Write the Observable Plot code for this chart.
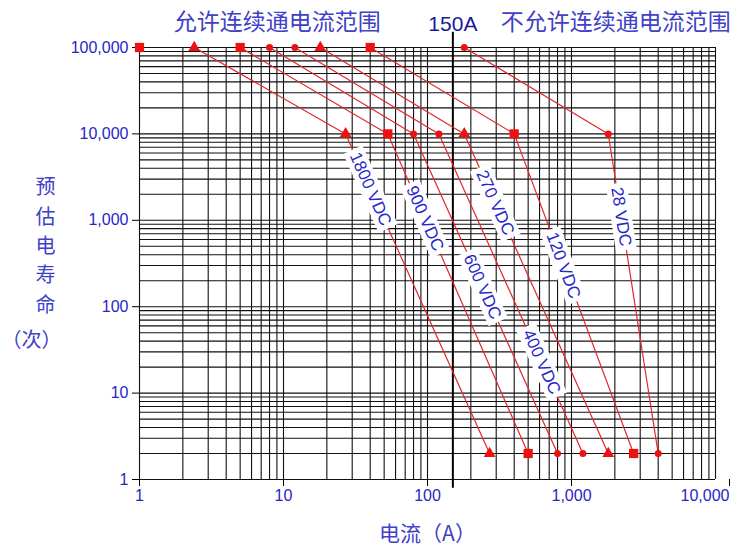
<!DOCTYPE html>
<html><head><meta charset="utf-8">
<script src="https://cdn.jsdelivr.net/npm/d3@7"></script>
<script src="https://cdn.jsdelivr.net/npm/@observablehq/plot@0.6"></script>
<style>body{margin:0;background:#fff;}</style>
</head><body><div id="chart"></div>
<script>
// ---- data ----
const series = ["1800 VDC", "900 VDC", "600 VDC", "400 VDC", "270 VDC", "120 VDC", "28 VDC"];
const shapes = ["triangle", "square", "circle", "circle", "triangle", "square", "circle"];
const lifeLevels = [100000, 10000, 2];
const currentAt100k = [2.4, 5, 8, 12, 18, 40, 180];
const currentAt10k = [27, 53, 80, 120, 180, 400, 1800];
const currentAt2 = [270, 500, 800, 1200, 1800, 2700, 4000];
const labelLife = [2300, 1050, 170, 23, 1600, 300, 1100];
const loneCurrent = [1];
const loneLife = [100000];
const loneShape = ["square"];
const xTickValues = [1, 10, 100, 1000];
const xLastTick = [10000];
const yTickValues = [1, 10, 100, 1000, 10000, 100000];
const limitCurrent = [150];
const limitLabel = "150A";
const leftTitle = "允许连续通电流范围";
const rightTitle = "不允许连续通电流范围";
const xTitle = "电流（A）";
const yTitleChars = "预\n估\n电\n寿\n命";
const yTitleUnit = "（次）";

// ---- layout ----
const W = 730, H = 548, ML = 139, MR = 15, MT = 47, MB = 69;
const xDomain = [1, 10000], yDomain = [1, 100000];
const xs = d3.scaleLog().domain(xDomain).range([ML, W - MR]);
const ys = d3.scaleLog().domain(yDomain).range([H - MB, MT]);

const points = [];
series.forEach((s, i) => {
  [currentAt100k[i], currentAt10k[i], currentAt2[i]].forEach((c, j) => {
    points.push({series: s, shape: shapes[i], current: c, life: lifeLevels[j]});
  });
});
loneCurrent.forEach((c, i) => points.push({series: "lone", shape: loneShape[i], current: c, life: loneLife[i]}));

const labels = series.map((s, i) => {
  const c2 = currentAt10k[i], c3 = currentAt2[i], l2 = lifeLevels[1], l3 = lifeLevels[2];
  const t = (Math.log(labelLife[i]) - Math.log(l2)) / (Math.log(l3) - Math.log(l2));
  const c = Math.exp(Math.log(c2) + t * (Math.log(c3) - Math.log(c2)));
  const ang = Math.atan2(ys(l3) - ys(l2), xs(c3) - xs(c2)) * 180 / Math.PI;
  return {text: s, current: c, life: labelLife[i], angle: ang};
});

const gridX = xs.ticks();
const gridY = ys.ticks();
const lineRed = "#e3262b", markRed = "#ee1111";
const blue = "#2626c9", lightBlue = "#4040c8";
const cjk = "'Noto Sans CJK SC', sans-serif";

const plot = Plot.plot({
  width: W, height: H,
  marginLeft: ML, marginRight: MR, marginTop: MT, marginBottom: MB,
  x: {type: "log", domain: xDomain},
  y: {type: "log", domain: yDomain},
  style: {fontFamily: "'Liberation Sans', Arial, sans-serif", background: "#fff"},
  marks: [
    Plot.ruleX(gridX, {stroke: "#111", strokeWidth: 1.1}),
    Plot.ruleY(gridY, {stroke: "#111", strokeWidth: 1.1}),
    Plot.ruleX(limitCurrent, {y1: 0.79, y2: 150000, stroke: "#000", strokeWidth: 2}),
    Plot.axisX({ticks: xTickValues, tickFormat: ",", tickSize: 7, tickPadding: 3, fontSize: 16, fill: blue, stroke: "#000", label: null}),
    Plot.axisX({ticks: xLastTick, tickFormat: ",", tickSize: 7, tickPadding: 3, fontSize: 16, fill: blue, stroke: "#000", label: null, textAnchor: "end", dx: 14}),
    Plot.axisY({ticks: yTickValues, tickFormat: ",", tickSize: 7, tickPadding: 4, fontSize: 16, fill: blue, stroke: "#000", label: null}),
    Plot.line(points.filter(d => d.series !== "lone"), {x: "current", y: "life", z: "series", stroke: lineRed, strokeWidth: 1.2}),
    Plot.dot(points.filter(d => d.shape === "square"), {x: "current", y: "life", symbol: "square", r: 5.2, fill: markRed}),
    Plot.dot(points.filter(d => d.shape === "triangle"), {x: "current", y: "life", symbol: "triangle", r: 4.4, fill: markRed}),
    Plot.dot(points.filter(d => d.shape === "circle"), {x: "current", y: "life", symbol: "circle", r: 3.5, fill: markRed}),
    Plot.text(labels, {x: "current", y: "life", text: "text", rotate: "angle", fontSize: 17, fill: blue, textAnchor: "middle", lineAnchor: "middle"}),
    Plot.text(limitCurrent, {x: d => d, frameAnchor: "top", lineAnchor: "middle", textAnchor: "middle", dy: -23, text: () => limitLabel, fontSize: 21, fill: "#1a1a96"}),
    Plot.text(limitCurrent, {x: d => d, frameAnchor: "top", lineAnchor: "middle", dy: -25, dx: -72, textAnchor: "end", text: () => leftTitle, fontSize: 23, fill: lightBlue, fontFamily: cjk}),
    Plot.text(limitCurrent, {x: d => d, frameAnchor: "top", lineAnchor: "middle", dy: -25, dx: 48, textAnchor: "start", text: () => rightTitle, fontSize: 23, fill: lightBlue, fontFamily: cjk}),
    Plot.text([xTitle], {frameAnchor: "bottom", lineAnchor: "middle", textAnchor: "middle", dy: 55, text: d => d, fontSize: 21, fill: lightBlue, fontFamily: cjk}),
    Plot.text([yTitleChars], {frameAnchor: "left", textAnchor: "middle", lineAnchor: "middle", dx: -94, dy: -20, text: d => d, lineHeight: 1.47, fontSize: 20, fill: lightBlue, fontFamily: cjk}),
    Plot.text([yTitleUnit], {frameAnchor: "left", textAnchor: "middle", lineAnchor: "middle", dx: -108, dy: 77, text: d => d, fontSize: 20, fill: lightBlue, fontFamily: cjk})
  ]
});
document.getElementById("chart").appendChild(plot);

// white boxes behind the rotated series labels
const svgNS = "http://www.w3.org/2000/svg";
plot.querySelectorAll("text").forEach(t => {
  if (!series.includes(t.textContent.trim())) return;
  const parent = t.parentNode;
  const b = t.getBBox();
  const m = parent.getCTM().inverse().multiply(t.getCTM());
  const r = document.createElementNS(svgNS, "rect");
  r.setAttribute("x", b.x - 4); r.setAttribute("y", b.y - 1);
  r.setAttribute("width", b.width + 8); r.setAttribute("height", b.height + 2);
  r.setAttribute("fill", "#fff");
  r.setAttribute("stroke", "none");
  r.setAttribute("transform", `matrix(${m.a},${m.b},${m.c},${m.d},${m.e},${m.f})`);
  parent.insertBefore(r, t);
});
</script></body></html>
